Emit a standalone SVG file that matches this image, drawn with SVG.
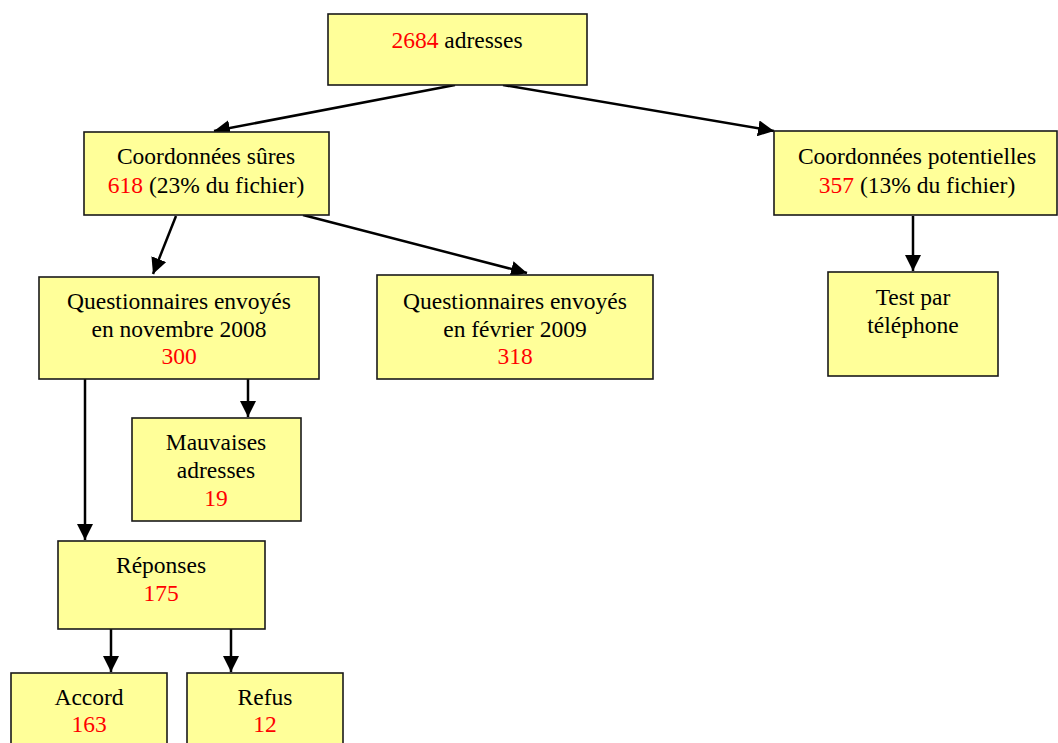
<svg xmlns="http://www.w3.org/2000/svg" width="1058" height="743" viewBox="0 0 1058 743">
<style>
.box{fill:#FFFF99;stroke:#1a1a1a;stroke-width:1.6}
text{font-family:"Liberation Serif","Times New Roman",serif;font-size:23.5px;fill:#000;text-anchor:middle}
.r{fill:#FF0000}
.c{stroke:#000;stroke-width:2.5;fill:none;marker-end:url(#ah)}
</style>
<defs>
<marker id="ah" markerUnits="userSpaceOnUse" markerWidth="17" markerHeight="16" refX="16" refY="8" orient="auto">
<path d="M0,0 L16,8 L0,16 Z" fill="#000"/>
</marker>
</defs>
<rect width="1058" height="743" fill="#fff"/>
<g id="connectors">
<line class="c" x1="455" y1="85" x2="214" y2="131"/>
<line class="c" x1="503" y1="85" x2="774" y2="131"/>
<line class="c" x1="176" y1="216" x2="153" y2="274"/>
<line class="c" x1="303" y1="215" x2="527" y2="273"/>
<line class="c" x1="913" y1="216" x2="913" y2="271"/>
<line class="c" x1="85" y1="379" x2="85" y2="540"/>
<line class="c" x1="248" y1="379" x2="248" y2="417"/>
<line class="c" x1="111" y1="629" x2="111" y2="672"/>
<line class="c" x1="231" y1="629" x2="231" y2="672"/>
</g>
<g id="n-adresses">
<rect class="box" x="328" y="14" width="259" height="71"/>
<text x="457" y="48"><tspan class="r">2684</tspan> adresses</text>
</g>
<g id="n-sures">
<rect class="box" x="84" y="132" width="245" height="83"/>
<text x="206" y="164">Coordonnées sûres</text>
<text x="206" y="193"><tspan class="r">618</tspan> (23% du fichier)</text>
</g>
<g id="n-potentielles">
<rect class="box" x="774" y="131" width="283" height="84"/>
<text x="917" y="164">Coordonnées potentielles</text>
<text x="917" y="193"><tspan class="r">357</tspan> (13% du fichier)</text>
</g>
<g id="n-telephone">
<rect class="box" x="828" y="272" width="170" height="104"/>
<text x="913" y="305">Test par</text>
<text x="913" y="333">téléphone</text>
</g>
<g id="n-novembre">
<rect class="box" x="39" y="277" width="280" height="102"/>
<text x="179" y="309">Questionnaires envoyés</text>
<text x="179" y="337">en novembre 2008</text>
<text x="179" y="364" class="r">300</text>
</g>
<g id="n-fevrier">
<rect class="box" x="377" y="275" width="276" height="104"/>
<text x="515" y="309">Questionnaires envoyés</text>
<text x="515" y="337">en février 2009</text>
<text x="515" y="364" class="r">318</text>
</g>
<g id="n-mauvaises">
<rect class="box" x="132" y="418" width="169" height="103"/>
<text x="216" y="450">Mauvaises</text>
<text x="216" y="478">adresses</text>
<text x="216" y="506" class="r">19</text>
</g>
<g id="n-reponses">
<rect class="box" x="58" y="541" width="207" height="88"/>
<text x="161" y="573">Réponses</text>
<text x="161" y="601" class="r">175</text>
</g>
<g id="n-accord">
<rect class="box" x="11" y="673" width="156" height="80"/>
<text x="89" y="705">Accord</text>
<text x="89" y="732" class="r">163</text>
</g>
<g id="n-refus">
<rect class="box" x="187" y="673" width="156" height="80"/>
<text x="265" y="705">Refus</text>
<text x="265" y="732" class="r">12</text>
</g>
</svg>
